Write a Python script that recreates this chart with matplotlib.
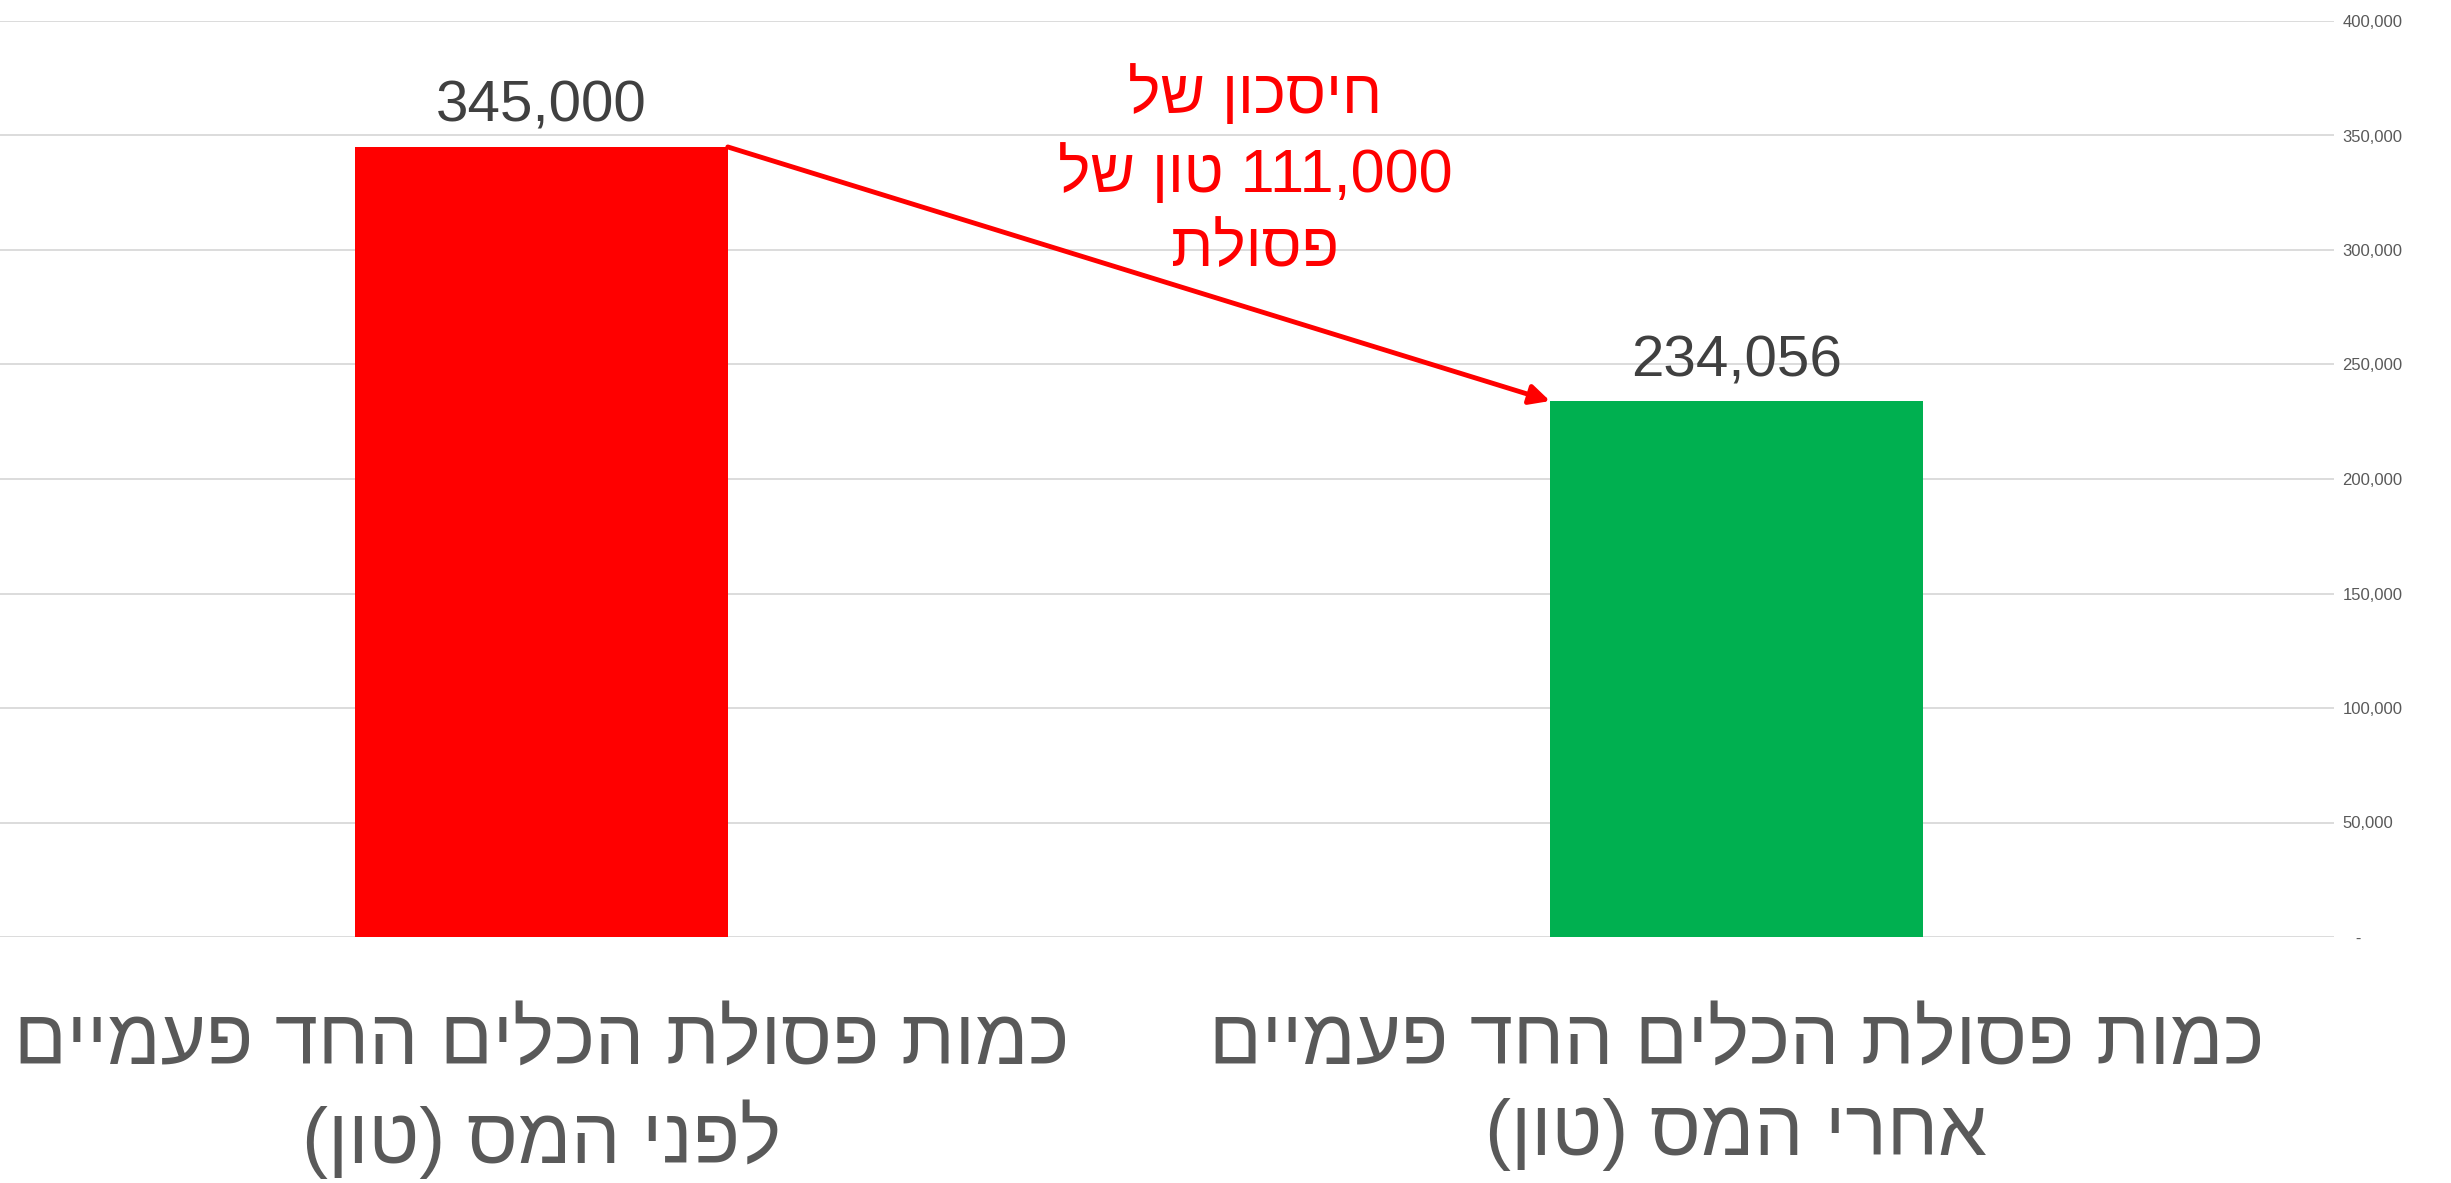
import re
import matplotlib
matplotlib.use('Agg')
import matplotlib.pyplot as plt
from matplotlib.ticker import FuncFormatter

categories = [
    'כמות פסולת הכלים החד פעמיים\nלפני המס (טון)',
    'כמות פסולת הכלים החד פעמיים\nאחרי המס (טון)',
]
values = [345000, 234056]
bar_colors = ['#ff0000', '#00b050']
savings_note = 'חיסכון של\n111,000 טון של\nפסולת'
y_ticks = list(range(0, 400001, 50000))

plt.rcParams['font.family'] = ['Liberation Sans', 'DejaVu Sans']


def rtl(text):
    # matplotlib has no bidi, so flip every line by hand and put numbers back
    out = []
    for line in text.split('\n'):
        flipped = line[::-1].translate(str.maketrans('()', ')('))
        flipped = re.sub(r'[\d,]+', lambda m: m.group(0)[::-1], flipped)
        out.append(flipped)
    return '\n'.join(out)


fig = plt.figure(figsize=(24.51, 11.83), dpi=100)
ax = fig.add_axes([0, 246 / 1183, 2334 / 2451, 916 / 1183])

x = list(range(len(values)))
bar_w = 0.312
ax.bar(x, values, width=bar_w, color=bar_colors, zorder=3)

for i, v in zip(x, values):
    ax.annotate(f'{v:,}', (i, v), xytext=(0, 18), textcoords='offset points',
                ha='center', va='baseline', fontsize=42, color='#404040')

# arrow from top of the first bar to top of the second
ax.annotate('', xy=(1 - bar_w / 2, values[1]), xytext=(bar_w / 2, values[0]),
            arrowprops=dict(arrowstyle='-|>', color='#ff0000', lw=3.5,
                            mutation_scale=30, shrinkA=0, shrinkB=0),
            zorder=4)

ax.text(0.597, 334000, rtl(savings_note), ha='center', va='center',
        fontsize=44, color='#ff0000', linespacing=1.38, zorder=5)

ax.set_xlim(-0.453, 1.5)
ax.set_ylim(0, 400000)

ax.set_xticks(x, labels=[rtl(c) for c in categories])
ax.tick_params(axis='x', length=0, pad=50, labelsize=56, labelcolor='#595959')
for lab in ax.get_xticklabels():
    lab.set_linespacing(1.32)

ax.yaxis.tick_right()
ax.set_yticks(y_ticks)
ax.yaxis.set_major_formatter(FuncFormatter(lambda v, p: '   -' if v == 0 else f'{int(v):,}'))
ax.tick_params(axis='y', length=0, pad=6, labelsize=12, labelcolor='#595959')

ax.grid(axis='y', color='#d9d9d9', lw=1.3, zorder=0)
for s in ax.spines.values():
    s.set_visible(False)

fig.savefig('out.png', dpi=100)
